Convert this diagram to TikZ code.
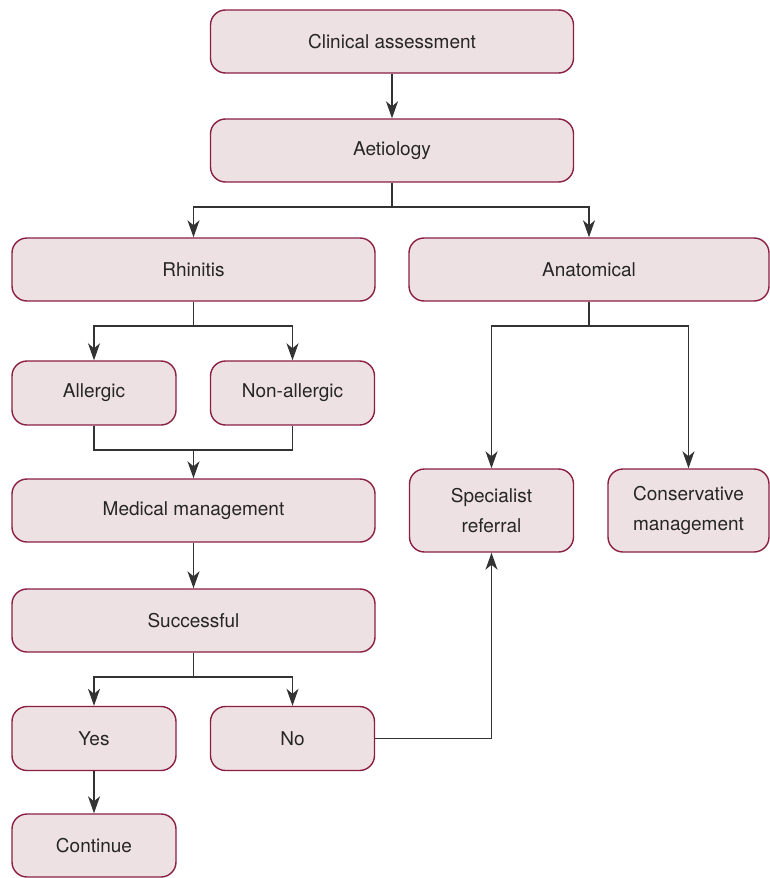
\documentclass[tikz,border=0pt]{standalone}
\usepackage{fontspec}
\setmainfont{TeX Gyre Heros}
\usetikzlibrary{arrows.meta,positioning}
\definecolor{boxfill}{HTML}{EEE1E4}
\definecolor{boxline}{HTML}{8A1F42}
\definecolor{conn}{HTML}{333333}
\begin{document}
\begin{tikzpicture}[x=1pt,y=1pt,
  box/.style={draw=boxline,fill=boxfill,line width=1.4pt,rounded corners=15pt,
    inner sep=0pt,align=center,font=\fontsize{19}{30}\selectfont,text=black!85},
  wide/.style={box,minimum width=363pt,minimum height=63pt},
  half/.style={box,minimum width=164pt,minimum height=64pt},
  tall/.style={box,minimum width=164pt,minimum height=83pt},
  link/.style={draw=conn,line width=1.2pt},
  arr/.style={link,-{Stealth[length=17pt,width=12pt,inset=5pt]}}]
\useasboundingbox (0,0) rectangle (769,-878);
\node[wide] (clin) at (392,-41.5) {Clinical assessment};
\node[wide] (aet) at (392,-150.5) {Aetiology};
\node[wide] (rhin) at (193.5,-269.5) {Rhinitis};
\node[wide,minimum width=360pt] (anat) at (589,-269.5) {Anatomical};
\node[half] (all) at (94,-393) {Allergic};
\node[half] (nonall) at (292.5,-393) {Non-allergic};
\node[wide] (med) at (193.5,-510.5) {Medical management};
\node[wide] (succ) at (193.5,-620.5) {Successful};
\node[half] (yes) at (94,-738.5) {Yes};
\node[half] (no) at (292.5,-738.5) {No};
\node[half,minimum height=63pt] (cont) at (94,-845.5) {Continue};
\node[tall] (spec) at (491.5,-510.5) {Specialist\\referral};
\node[tall,minimum width=161pt] (cons) at (688.5,-510.5) {Conservative\\management};
% connectors
\draw[arr] (clin) -- (aet);
\coordinate (j1) at (392,-207);
\draw[link] (aet.south) -- (j1);
\draw[arr] (j1) -| (rhin.north);
\draw[arr] (j1) -| (anat.north);
\coordinate (j2) at (193.5,-326);
\draw[link] (rhin.south) -- (j2);
\draw[arr] (j2) -| (all.north);
\draw[arr] (j2) -| (nonall.north);
\coordinate (j3) at (193.5,-450);
\draw[link] (all.south) |- (j3) -| (nonall.south);
\draw[arr] (j3) -- (med.north);
\draw[arr] (med) -- (succ);
\coordinate (j4) at (193.5,-677);
\draw[link] (succ.south) -- (j4);
\draw[arr] (j4) -| (yes.north);
\draw[arr] (j4) -| (no.north);
\draw[arr] (yes) -- (cont);
\draw[arr] (no.east) -| (spec.south);
\coordinate (j5) at (589,-326);
\draw[link] (anat.south) -- (j5);
\draw[arr] (j5) -| (spec.north);
\draw[arr] (j5) -| (cons.north);
\end{tikzpicture}
\end{document}
